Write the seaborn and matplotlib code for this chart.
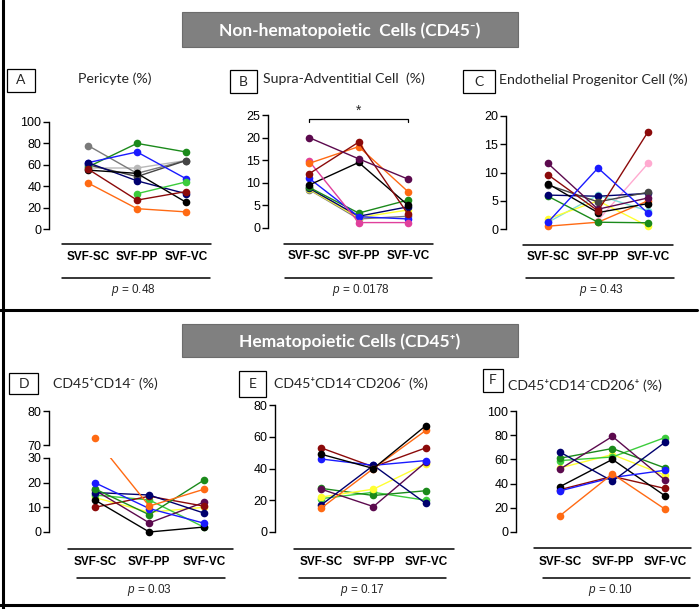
"""Paired SVF-site comparison: CD45- and CD45+ cell subsets per donor."""

import matplotlib.pyplot as plt
import numpy as np
import pandas as pd
import seaborn as sns
from matplotlib.lines import Line2D
from matplotlib.patches import Rectangle

W, H = 700, 609

SITES = ["SVF-SC", "SVF-PP", "SVF-VC"]

COLORS = {
    "black": "#000000",
    "gray": "#7a7a7a",
    "darkgray": "#454545",
    "lightgray": "#b8b8b8",
    "blue": "#1a1aff",
    "navy": "#00006e",
    "green": "#1b8a1b",
    "lime": "#3ccc3c",
    "darkred": "#8b0a0a",
    "orange": "#ff6a13",
    "purple": "#5c0a4e",
    "magenta": "#e0409c",
    "yellow": "#ffff33",
    "cyan": "#7fe0d8",
    "pink": "#ffaad0",
}

nan = np.nan

# A - pericyte (%)
PERICYTE = {
    "lightgray": [57, 57, 64],
    "gray": [78, 52, 64],
    "darkgray": [60, 49, 64],
    "green": [58, 80, 72],
    "blue": [62, 72, 47],
    "navy": [62, 45, 33],
    "lime": [nan, 33, 44],
    "black": [55, 52, 25],
    "darkred": [56, 27, 35],
    "orange": [43, 19, 16],
}

# B - supra-adventitial cell (%)
SUPRA_ADV = {
    "gray": [8.5, 2.0, 2.6],
    "yellow": [8.6, 2.3, 4.0],
    "navy": [8.8, 2.6, 4.7],
    "green": [9.0, 3.3, 6.2],
    "blue": [11.0, 2.5, 2.0],
    "black": [9.5, 14.5, 5.0],
    "magenta": [14.8, 1.2, 1.2],
    "orange": [14.3, 18.0, 8.0],
    "darkred": [12.0, 19.0, 3.0],
    "purple": [20.0, 15.3, 10.8],
}

# C - endothelial progenitor cell (%)
ENDO_PROG = {
    "pink": [nan, 1.5, 11.6],
    "cyan": [1.2, 6.0, 3.2],
    "yellow": [1.8, 5.0, 0.5],
    "orange": [0.5, 1.2, 5.0],
    "green": [5.8, 1.2, 1.1],
    "navy": [6.0, 5.8, 6.3],
    "darkgray": [7.8, 4.8, 6.5],
    "black": [8.0, 2.9, 4.5],
    "purple": [11.6, 3.5, 5.5],
    "darkred": [9.6, 3.2, 17.2],
    "blue": [1.2, 10.8, 2.8],
}

# D - CD45+CD14- (%)
CD14_NEG = {
    "yellow": [14, 8, 10],
    "lime": [15, 13, 2],
    "purple": [17, 3.7, 12],
    "darkred": [10, 14.5, 10.5],
    "black": [13, 0, 2],
    "navy": [16, 15, 7.7],
    "green": [17.5, 7, 21],
    "blue": [20, 9.5, 3.6],
    "orange": [72, 10.5, 17.3],
}

# E - CD45+CD14-CD206- (%)
CD206_NEG = {
    "lime": [21, 25, 20],
    "green": [27.5, 23, 26],
    "yellow": [22, 27, 43],
    "purple": [27, 16, 44],
    "darkred": [53, 41, 53],
    "blue": [46, 42, 45],
    "navy": [17, 42, 18],
    "orange": [15, 40, 64],
    "black": [49, 40, 67],
}

# F - CD45+CD14-CD206+ (%)
CD206_POS = {
    "yellow": [53, 64, 47],
    "lime": [59, 62, 78],
    "green": [61, 69, 53],
    "purple": [52, 79, 43],
    "darkred": [35, 46, 36],
    "black": [37.5, 60, 30],
    "blue": [34, 45, 51],
    "navy": [66, 42, 74],
    "orange": [13.5, 48, 19],
}

P_VALUES = ["0.48", "0.0178", "0.43", "0.03", "0.17", "0.10"]
TITLES = [
    "Pericyte (%)",
    "Supra-Adventitial Cell  (%)",
    "Endothelial Progenitor Cell (%)",
    "CD45\u207aCD14\u207b (%)",
    "CD45\u207aCD14\u207bCD206\u207b (%)",
    "CD45\u207aCD14\u207bCD206\u207a (%)",
]

TITLE_FONT = ["Lato", "DejaVu Sans"]
TICK_FONT = ["Liberation Sans", "DejaVu Sans"]


def fx(x):
    return x / W


def fy(y):
    return 1 - y / H


def add_axes_px(fig, x0, x1, ytop, ybot):
    return fig.add_axes([fx(x0), fy(ybot), (x1 - x0) / W, (ybot - ytop) / H])


def hline(fig, x0, x1, y, lw=1.1):
    fig.add_artist(Line2D([fx(x0), fx(x1)], [fy(y), fy(y)],
                          transform=fig.transFigure, color="k", lw=lw))


def to_frame(values):
    rows = []
    for subject, series in values.items():
        for i, v in enumerate(series):
            if not np.isnan(v):
                rows.append({"subject": subject, "pos": i, "value": v})
    return pd.DataFrame(rows)


def draw_lines(ax, values):
    df = to_frame(values)
    sns.lineplot(data=df, x="pos", y="value", hue="subject", palette=COLORS,
                 hue_order=list(values), errorbar=None, sort=False,
                 marker="o", markersize=5.5, markeredgewidth=0, linewidth=1,
                 legend=False, ax=ax)
    for ln in ax.lines:
        ln.set_clip_on(False)


def style_axis(ax, left, ylim, yticks, show_x=True, pad=16):
    ax.set_xlim(left, 2.5)
    ax.set_ylim(*ylim)
    ax.set_yticks(yticks)
    ax.set_xlabel("")
    ax.set_ylabel("")
    ax.set_facecolor("none")
    for side in ("top", "right", "bottom"):
        ax.spines[side].set_visible(False)
    ax.spines["left"].set_color("k")
    ax.spines["left"].set_linewidth(1)
    ax.tick_params(axis="y", length=4, width=1, color="k", labelcolor="k",
                   labelsize=9, pad=1.5)
    for lab in ax.get_yticklabels():
        lab.set_family(TICK_FONT)
    if show_x:
        ax.set_xticks(range(len(SITES)), SITES)
        ax.tick_params(axis="x", length=0, pad=pad, labelcolor="k",
                       labelsize=8.5)
        for lab in ax.get_xticklabels():
            lab.set_family(TICK_FONT)
            lab.set_fontweight("bold")
    else:
        ax.set_xticks([])


def panel_frame(fig, letter, box, title, title_xy, rule1, rule2, p_xy, p):
    x0, x1, y0, y1 = box
    fig.add_artist(Rectangle((fx(x0), fy(y1)), (x1 - x0) / W, (y1 - y0) / H,
                             transform=fig.transFigure, fc="white", ec="k",
                             lw=0.9))
    fig.text(fx((x0 + x1) / 2), fy((y0 + y1) / 2), letter, ha="center",
             va="center", fontsize=10, family=TITLE_FONT)
    fig.text(fx(title_xy[0]), fy(title_xy[1]), title, ha="left", va="center",
             fontsize=10.2, family=TITLE_FONT)
    hline(fig, *rule1)
    hline(fig, *rule2)
    fig.text(fx(p_xy[0]), fy(p_xy[1]), rf"$\it{{p}}$ = {p}", ha="center",
             va="center", fontsize=8.5, family=TICK_FONT)


def header(fig, y0, y1, text):
    fig.add_artist(Rectangle((fx(182), fy(y1)), (518 - 182) / W, (y1 - y0) / H,
                             transform=fig.transFigure, fc="#808080",
                             ec="#6c6c6c", lw=0.8))
    fig.text(fx(350), fy((y0 + y1) / 2 + 1), text, ha="center", va="center",
             color="white", fontsize=12.5, fontweight="bold", family=TITLE_FONT)


def main():
    sns.set_style("ticks")
    plt.rcParams["font.family"] = TICK_FONT
    plt.rcParams["mathtext.fontset"] = "custom"
    plt.rcParams["mathtext.it"] = "Liberation Sans:italic"
    plt.rcParams["mathtext.rm"] = "Liberation Sans"

    fig = plt.figure(figsize=(W / 100, H / 100), dpi=100)

    # outer frame
    fig.add_artist(Line2D([fx(3), fx(3)], [fy(0), fy(H)],
                          transform=fig.transFigure, color="k", lw=2.2))
    hline(fig, 0, 697, 310, lw=2.2)
    hline(fig, 0, 697, 605, lw=2.2)

    header(fig, 12, 47, "Non-hematopoietic  Cells (CD45\u207b)")
    header(fig, 324, 357, "Hematopoietic Cells (CD45\u207a)")

    # A
    ax = add_axes_px(fig, 49, 210.5, 122, 229)
    draw_lines(ax, PERICYTE)
    style_axis(ax, -0.796, (0, 100), range(0, 101, 20))
    panel_frame(fig, "A", (7, 35, 69, 92), TITLES[0], (78, 79),
                (62, 211, 244), (62, 210, 278), (133, 290), P_VALUES[0])

    # B
    ax = add_axes_px(fig, 268, 433, 115, 228)
    draw_lines(ax, SUPRA_ADV)
    style_axis(ax, -0.83, (0, 25), range(0, 26, 5))
    ax.plot([0, 0, 2, 2], [23.4, 24.1, 24.1, 23.4], color="k", lw=0.9,
            clip_on=False)
    ax.text(1, 24.3, "*", ha="center", va="bottom", fontsize=10)
    panel_frame(fig, "B", (230, 257, 70, 93), TITLES[1], (263, 79),
                (284, 433, 244), (285, 432, 278), (361, 290), P_VALUES[1])

    # C
    ax = add_axes_px(fig, 506, 673, 116, 229)
    draw_lines(ax, ENDO_PROG)
    style_axis(ax, -0.84, (0, 20), range(0, 21, 5))
    panel_frame(fig, "C", (463, 495, 70, 93), TITLES[2], (499, 80),
                (523, 673, 245), (526, 674, 278), (601, 290), P_VALUES[2])

    # D: broken y axis
    cut = 30
    ax_lo = add_axes_px(fig, 49, 231, 458, 532)
    ax_up = add_axes_px(fig, 49, 231, 411, 445)
    low = {k: [v if v <= cut else nan for v in s] for k, s in CD14_NEG.items()}
    draw_lines(ax_lo, low)
    high = to_frame(CD14_NEG)
    high = high[high["value"] > cut]
    sns.scatterplot(data=high, x="pos", y="value", hue="subject",
                    palette=COLORS, s=30, linewidth=0, legend=False,
                    ax=ax_up, clip_on=False)
    style_axis(ax_lo, -0.84, (0, 30), range(0, 31, 10), pad=17.5)
    style_axis(ax_up, -0.84, (70, 80), [70, 80], show_x=False)
    # segments crossing the break, drawn straight in screen space
    for subject, series in CD14_NEG.items():
        for i in range(len(series) - 1):
            a, b = series[i], series[i + 1]
            if (a > cut) != (b > cut):
                hi_i, hi_v = (i, a) if a > cut else (i + 1, b)
                lo_i, lo_v = (i + 1, b) if a > cut else (i, a)
                disp = ax_up.transData.transform((hi_i, hi_v))
                _, y_virtual = ax_lo.transData.inverted().transform(disp)
                ax_lo.plot([hi_i, lo_i], [y_virtual, lo_v],
                           color=COLORS[subject], lw=1, clip_on=True)
    panel_frame(fig, "D", (9, 38, 373, 394), TITLES[3], (53, 383),
                (68, 233, 549), (77, 225, 578), (149, 590), P_VALUES[3])

    # E
    ax = add_axes_px(fig, 275, 452, 405, 532)
    draw_lines(ax, CD206_NEG)
    style_axis(ax, -0.88, (0, 80), range(0, 81, 20), pad=17.5)
    panel_frame(fig, "E", (239, 266, 371, 397), TITLES[4], (274, 383),
                (294, 454, 549), (299, 446, 578), (362, 590), P_VALUES[4])

    # F
    ax = add_axes_px(fig, 516, 691, 411, 532)
    draw_lines(ax, CD206_POS)
    style_axis(ax, -0.84, (0, 100), range(0, 101, 20), pad=17.5)
    panel_frame(fig, "F", (483, 503, 369, 392), TITLES[5], (508, 386),
                (534, 691, 548), (543, 690, 578), (610, 590), P_VALUES[5])

    fig.savefig("out.png", dpi=100)
    plt.close(fig)


if __name__ == "__main__":
    main()
